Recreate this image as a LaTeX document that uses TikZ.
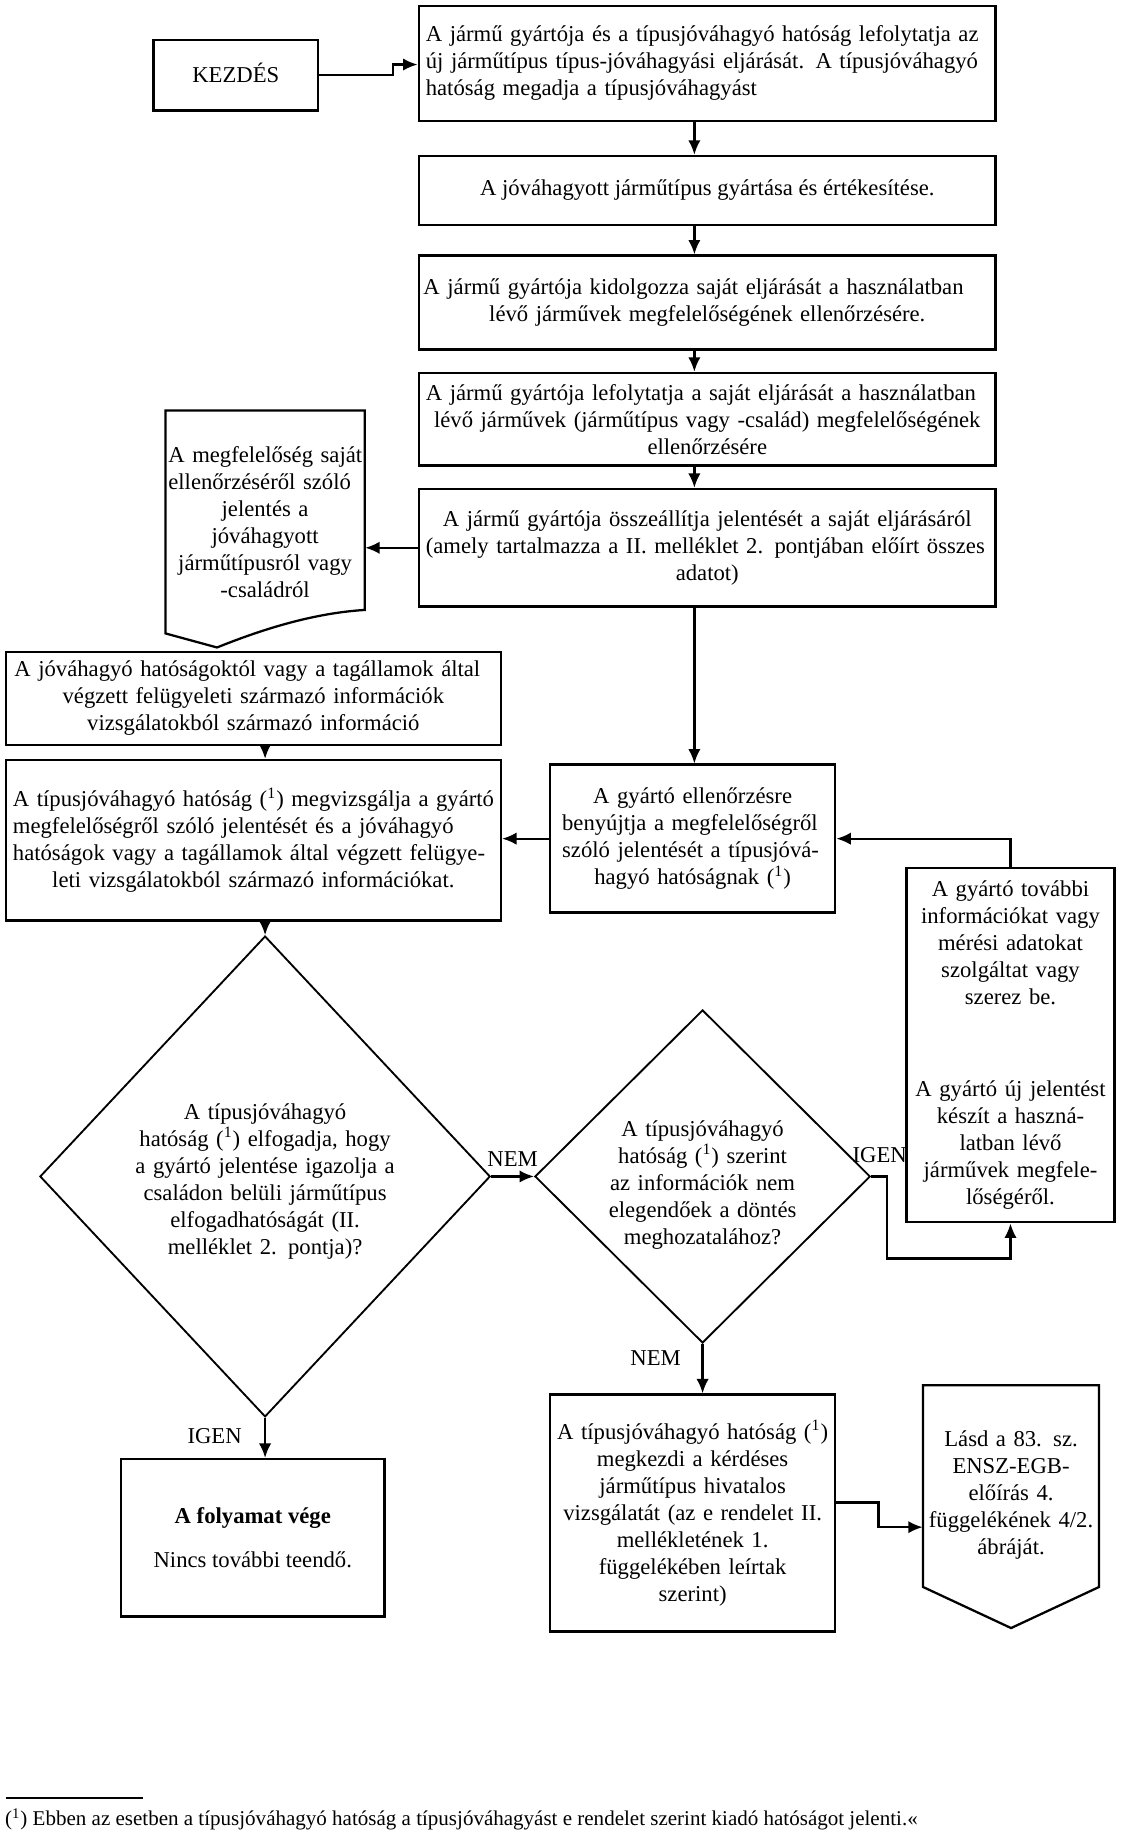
\documentclass[tikz,border=0pt]{standalone}
\usepackage{fontspec}
\setmainfont{Liberation Serif}
\usetikzlibrary{shapes.geometric,arrows.meta,calc}
\newcommand\jl[1]{\makebox[\linewidth][s]{#1}}
\newcommand\fnm{(\textsuperscript{1})}
\begin{document}
\begin{tikzpicture}[x=0.02cm,y=-0.02cm,
  every node/.style={font=\fontsize{11}{13.1}\selectfont},
  box/.style={draw,line width=1.25pt,inner sep=0pt,align=center},
  txt/.style={inner sep=0pt,align=center},
  dia/.style={draw,diamond,line width=0.9pt,inner sep=0pt},
  arr/.style={line width=1.1pt,-{Latex[length=7pt,width=6pt]}},
  ln/.style={line width=1.1pt},
  lbl/.style={inner sep=0pt}]
\useasboundingbox[fill=white] (0,0) rectangle (960,1563.6);
\coordinate (ax) at (592,0);

% top column
\node[box,minimum width=2.8cm,minimum height=1.2cm] (kez) at (201,64) {\raisebox{0.09cm}{KEZDÉS}};
\node[box,minimum width=9.84cm,minimum height=1.96cm,text width=9.6cm,align=left] (b1) at (603,54)
 {\jl{A jármű gyártója és a típusjóváhagyó hatóság lefolytatja az}\\
  \jl{új járműtípus típus-jóváhagyási eljárását. A típusjóváhagyó}\\
  hatóság megadja a típusjóváhagyást};
\node[box,minimum width=9.84cm,minimum height=1.18cm] (b2) at (603,162.5)
 {\raisebox{0.09cm}{A jóváhagyott járműtípus gyártása és értékesítése.}};
\node[box,minimum width=9.84cm,minimum height=1.6cm,text width=9.68cm] (b3) at (603,258)
 {\jl{A jármű gyártója kidolgozza saját eljárását a használatban}\\
  lévő járművek megfelelőségének ellenőrzésére.};
\node[box,minimum width=9.84cm,minimum height=1.58cm,text width=9.6cm] (b4) at (603,357.5)
 {\jl{A jármű gyártója lefolytatja a saját eljárását a használatban}\\
  lévő járművek (járműtípus vagy -család) megfelelőségének\\
  ellenőrzésére};
\node[box,minimum width=9.84cm,minimum height=2.0cm,text width=9.6cm] (b5) at (603,467)
 {A jármű gyártója összeállítja jelentését a saját eljárásáról\\
  \jl{(amely tartalmazza a II. melléklet 2. pontjában előírt összes}\\
  adatot)};

% document shape
\draw[ln] (141,540) -- (141,350) -- (311,350) -- (311,520)
  .. controls (262,523) and (215,540) .. (185,552) -- cycle;
\node[txt,minimum width=3.4cm,text width=3.3cm] (d1) at (226,445)
 {\jl{A megfelelőség saját}\\ \jl{ellenőrzéséről szóló}\\ jelentés a\\ jóváhagyott\\ járműtípusról vagy\\ -családról};

% left column boxes
\node[box,minimum width=8.44cm,minimum height=1.58cm,text width=8.15cm] (b6) at (216,595.5)
 {\jl{A jóváhagyó hatóságoktól vagy a tagállamok által}\\
  végzett felügyeleti származó információk\\
  vizsgálatokból származó információ};
\node[box,minimum width=8.44cm,minimum height=2.74cm,text width=8.2cm] (b7) at (216,716.5)
 {\jl{A típusjóváhagyó hatóság \fnm{} megvizsgálja a gyártó}\\
  \jl{megfelelőségről szóló jelentését és a jóváhagyó}\\
  \jl{hatóságok vagy a tagállamok által végzett felügye-}\\
  leti vizsgálatokból származó információkat.};
\node[box,minimum width=4.86cm,minimum height=2.52cm,text width=4.45cm] (b8) at (590.5,715)
 {A gyártó ellenőrzésre\\
  \jl{benyújtja a megfelelőségről}\\
  \jl{szóló jelentését a típusjóvá-}\\
  hagyó hatóságnak \fnm};
\node[box,minimum width=3.54cm,minimum height=6.04cm,text width=3.3cm] (b9) at (861.5,891)
 {A gyártó további\\ információkat vagy\\ mérési adatokat\\ szolgáltat vagy\\ szerez be.\\[1.1cm]
  A gyártó új jelentést\\ készít a haszná-\\ latban lévő\\ járművek megfele-\\ lőségéről.};

% diamonds
\node[dia,minimum width=7.68cm,minimum height=8.2cm] (dm1) at (226,1003) {};
\node[txt,text width=5.4cm] (dm1t) at (226,1007)
 {A típusjóváhagyó\\ hatóság \fnm{} elfogadja, hogy\\ a gyártó jelentése igazolja a\\ családon belüli járműtípus\\ elfogadhatóságát (II.\\ melléklet 2. pontja)?};
\node[dia,minimum width=5.72cm,minimum height=5.68cm] (dm2) at (599,1003) {};
\node[txt,text width=4cm] (dm2t) at (599,1010)
 {A típusjóváhagyó\\ hatóság \fnm{} szerint\\ az információk nem\\ elegendőek a döntés\\ meghozatalához?};

% bottom boxes
\node[box,minimum width=4.5cm,minimum height=2.68cm] (b10) at (215.5,1311)
 {\textbf{A folyamat vége}\\[0.3cm] Nincs további teendő.};
\node[box,minimum width=4.86cm,minimum height=4.04cm,text width=4.65cm] (b11) at (590.5,1290)
 {A típusjóváhagyó hatóság \fnm\\ megkezdi a kérdéses\\ járműtípus hivatalos\\ vizsgálatát (az e rendelet II.\\ mellékletének 1.\\ függelékében leírtak\\ szerint)};
\draw[ln] (787,1181) -- (937,1181) -- (937,1353) -- (862,1388) -- (787,1353) -- cycle;
\node[txt,minimum width=3.0cm,text width=2.95cm] (b12) at (862,1275)
 {Lásd a 83. sz.\\ ENSZ-EGB-\\ előírás 4.\\ függelékének 4/2.\\ ábráját.};

% connectors
\coordinate (k1) at (335,64);
\coordinate (k2) at (335,55);
\draw[arr] (kez.east) -- (k1) -- (k2) -- (k2 -| b1.west);
\draw[arr] (b1.south -| ax) -- (b2.north -| ax);
\draw[arr] (b2.south -| ax) -- (b3.north -| ax);
\draw[arr] (b3.south -| ax) -- (b4.north -| ax);
\draw[arr] (b4.south -| ax) -- (b5.north -| ax);
\draw[arr] (b5.west) -- (b5.west -| d1.east);
\draw[arr] (b5.south -| ax) -- (b8.north -| ax);
\draw[arr] (b6.south -| dm1.north) -- (b7.north -| dm1.north);
\draw[arr] (b7.south -| dm1.north) -- (dm1.north);
\draw[arr] (b8.west) -- (b8.west -| b7.east);
\draw[arr] (b9.north) |- (b8.east);
\draw[arr] (dm1.east) -- (dm2.west);
\coordinate (c1) at (756,1073);
\draw[arr] (dm2.east) -| (c1) -| (b9.south);
\draw[arr] (dm1.south) -- (dm1.south |- b10.north);
\draw[arr] (dm2.south) -- (dm2.south |- b11.north);
\coordinate (j1) at (749,1281);
\coordinate (j2) at (749,1302);
\draw[arr] (b11.east |- j1) -- (j1) -- (j2) -- (j2 -| b12.west);

% labels
\node[lbl] (l1) at (437,988) {NEM};
\node[lbl] (l2) at (750,985) {IGEN};
\node[lbl] (l3) at (183,1224) {IGEN};
\node[lbl] (l4) at (559,1158) {NEM};

% footnote
\draw[line width=0.7pt] (5,1533) -- (122,1533);
\node[lbl,anchor=west,font=\fontsize{10.2}{12}\selectfont] (fn) at (4,1551)
 {\fnm{} Ebben az esetben a típusjóváhagyó hatóság a típusjóváhagyást e rendelet szerint kiadó hatóságot jelenti.«};
\end{tikzpicture}
\end{document}
